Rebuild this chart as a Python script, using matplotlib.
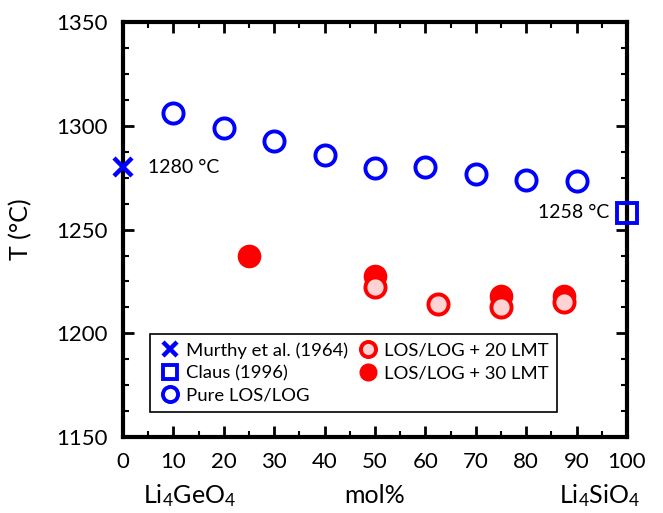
import numpy as np
import matplotlib.pyplot as plt
from matplotlib.ticker import MultipleLocator

# data
pure_x = [10, 20, 30, 40, 50, 60, 70, 80, 90]
pure_T = [1306, 1299, 1292.5, 1286, 1279.5, 1280, 1277, 1274, 1273.5]
murthy_x = [0]
murthy_T = [1280]
claus_x = [100]
claus_T = [1258]
lmt30_x = [25, 50, 75, 87.5]
lmt30_T = [1237.5, 1227.5, 1218, 1218]
lmt20_x = [50, 62.5, 75, 87.5]
lmt20_T = [1222.5, 1214, 1212.5, 1215]

plt.rcParams['font.family'] = ['Lato', 'DejaVu Sans']
plt.rcParams['mathtext.fontset'] = 'custom'
plt.rcParams['mathtext.rm'] = 'Lato'

fig = plt.figure(figsize=(6.63, 5.13), dpi=100)
ax = fig.add_axes([0.1855, 0.148, 0.7602, 0.809])

blue = "#0000FF"
red = "#FF0000"

ax.plot(murthy_x, murthy_T, ls='none', marker='x', ms=13, mew=3.2, color=blue,
        clip_on=False, zorder=5, label='Murthy et al. (1964)')
ax.plot(claus_x, claus_T, ls='none', marker='s', ms=14, mew=2.8, mfc='none', mec=blue,
        clip_on=False, zorder=5, label='Claus (1996)')
ax.plot(pure_x, pure_T, ls='none', marker='o', ms=14.5, mew=2.8, mfc='none', mec=blue,
        zorder=4, label='Pure LOS/LOG')
ax.plot(lmt30_x, lmt30_T, ls='none', marker='o', ms=16, mew=1, mfc=red, mec=red,
        zorder=3, label='LOS/LOG + 30 LMT')
ax.plot(lmt20_x, lmt20_T, ls='none', marker='o', ms=14.5, mew=2.8, mfc='#FFD3D3', mec=red,
        zorder=4, label='LOS/LOG + 20 LMT')

ax.text(5, 1280, '1280 °C', fontsize=14, va='center', ha='left')
ax.text(96.5, 1258, '1258 °C', fontsize=14, va='center', ha='right')

ax.set_xlim(0, 100)
ax.set_ylim(1150, 1350)
ax.xaxis.set_major_locator(MultipleLocator(10))
ax.xaxis.set_minor_locator(MultipleLocator(5))
ax.yaxis.set_major_locator(MultipleLocator(50))
ax.yaxis.set_minor_locator(MultipleLocator(12.5))
ax.tick_params(which='both', direction='in', top=True, right=True, labelsize=16, pad=11)
ax.tick_params(which='major', length=8, width=2)
ax.tick_params(which='minor', length=4.5, width=1.5)
for s in ax.spines.values():
    s.set_linewidth(3)

ax.set_ylabel('T (°C)', fontsize=18, labelpad=17)
xt = ax.get_xaxis_transform()
ax.text(13.3, -0.14, r'$\mathregular{Li_4GeO_4}$', transform=xt, fontsize=18,
        ha='center', va='center')
ax.text(50, -0.14, 'mol%', transform=xt, fontsize=18, ha='center', va='center')
ax.text(94.6, -0.14, r'$\mathregular{Li_4SiO_4}$', transform=xt, fontsize=18,
        ha='center', va='center')

h, l = ax.get_legend_handles_labels()
order = [0, 1, 2, 4, 3]
leg = ax.legend([h[i] for i in order], [l[i] for i in order], ncol=2, fontsize=13.3,
                loc='lower left', bbox_to_anchor=(0.054, 0.06), fancybox=False,
                edgecolor='black', framealpha=1, handletextpad=0.3, columnspacing=0.45,
                borderpad=0.45, labelspacing=0.35, handlelength=1.2, markerscale=0.75,
                borderaxespad=0)
leg.get_frame().set_linewidth(1.2)

fig.savefig('out.png', dpi=100)
